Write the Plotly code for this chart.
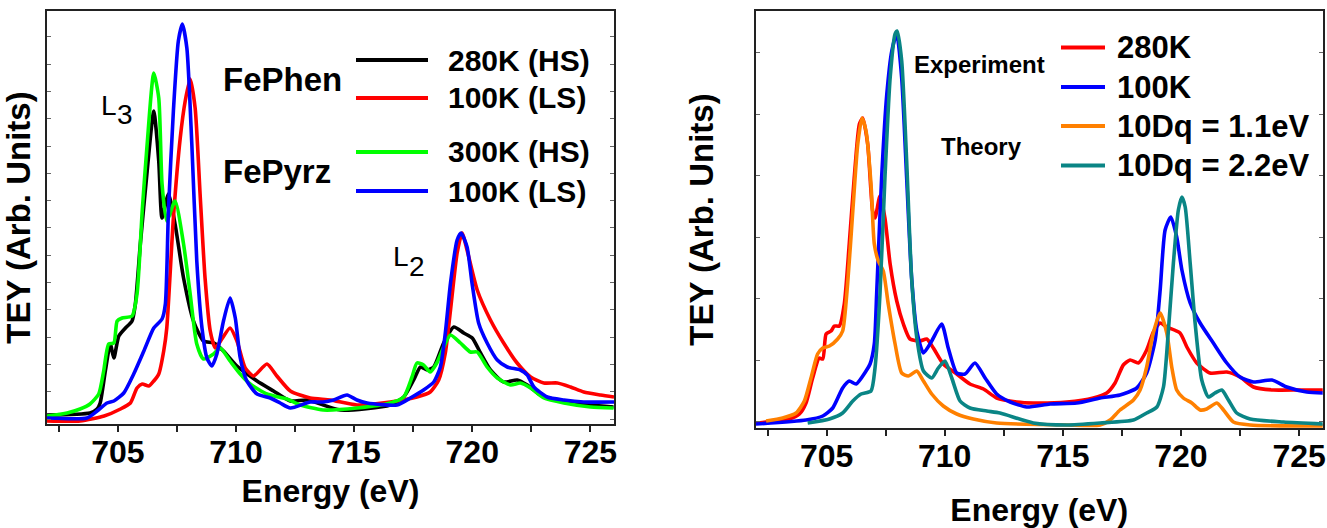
import plotly.graph_objects as go

W, H = 1327, 528
FONT = "Liberation Sans, Arial, sans-serif"

# ---------------- Left panel data (energy in eV, TEY in arb. units) ----------------
phen280_E = [702.00, 703.82, 704.12, 704.25, 704.47, 704.68, 704.83, 705.04, 705.32, 705.60, 705.74, 705.95,
             706.24, 706.52, 706.73, 706.87, 707.14, 707.42, 707.78, 708.20, 708.62, 709.05, 709.47, 710.04,
             710.89, 711.59, 712.30, 713.02, 714.42, 716.53, 717.10, 717.52, 717.81, 718.09, 718.37, 718.79,
             719.22, 719.64, 720.00, 720.35, 720.77, 721.33, 721.90, 722.33, 722.89, 723.60, 725.01, 725.98]
phen280_I = [9, 11, 15, 21, 53, 80, 66, 88, 96, 103, 120, 180,
             253, 313, 263, 206, 230, 200, 146, 103, 83, 81, 73, 58,
             43, 33, 23, 24, 14, 19, 27, 44, 57, 54, 57, 81,
             97, 91, 86, 71, 54, 42, 44, 39, 29, 24, 19, 17]

phen100_E = [702.00, 703.41, 704.42, 705.11, 705.53, 705.81, 706.03, 706.31, 706.52, 706.73, 706.94, 707.07,
             707.35, 707.64, 707.85, 708.06, 708.27, 708.48, 708.69, 708.91, 709.12, 709.40, 709.75, 710.04,
             710.39, 710.74, 711.31, 711.73, 712.30, 713.14, 713.99, 715.12, 716.53, 717.66, 718.22, 718.58,
             718.86, 719.08, 719.36, 719.57, 719.78, 720.21, 720.77, 721.33, 721.90, 722.47, 723.03, 723.60,
             724.16, 724.72, 725.43, 726.00]
phen100_I = [3, 3, 8, 15, 21, 36, 40, 38, 43, 50, 73, 96,
             206, 286, 323, 345, 316, 230, 146, 93, 76, 85, 96, 83,
             56, 48, 60, 48, 33, 26, 24, 19, 22, 27, 32, 44,
             71, 114, 171, 191, 174, 134, 104, 81, 61, 47, 41, 41,
             37, 32, 29, 27]

pyrz300_E = [702.00, 702.85, 703.40, 703.82, 704.19, 704.40, 704.61, 704.83, 704.97, 705.18, 705.60, 705.81,
             706.03, 706.24, 706.52, 706.73, 706.87, 707.07, 707.42, 707.78, 708.06, 708.34, 708.62, 709.05,
             709.33, 709.75, 710.18, 710.60, 711.31, 712.16, 712.72, 713.69, 715.12, 716.53, 717.10, 717.45,
             717.66, 717.94, 718.22, 718.50, 718.79, 719.08, 719.50, 719.92, 720.21, 720.63, 721.06, 721.62,
             722.04, 722.47, 723.03, 723.88, 725.01, 725.98]
pyrz300_I = [8, 11, 15, 20, 30, 53, 80, 81, 103, 106, 108, 130,
             213, 280, 351, 326, 240, 203, 223, 180, 130, 80, 65, 70,
             76, 63, 50, 40, 30, 25, 19, 14, 16, 21, 27, 47,
             61, 59, 52, 61, 77, 89, 81, 72, 72, 57, 46, 39,
             41, 36, 26, 21, 17, 16]

pyrz100_E = [702.00, 703.69, 704.12, 704.54, 704.83, 705.25, 705.67, 706.10, 706.52, 706.87, 707.01, 707.14,
             707.35, 707.56, 707.73, 707.92, 708.13, 708.34, 708.56, 708.77, 708.98, 709.19, 709.47, 709.75,
             709.97, 710.18, 710.46, 710.89, 711.45, 711.87, 712.30, 713.14, 713.69, 714.13, 714.70, 715.12,
             715.55, 716.82, 717.38, 717.94, 718.37, 718.65, 718.86, 719.08, 719.36, 719.53, 719.78, 719.99,
             720.27, 720.63, 721.06, 721.48, 722.04, 722.33, 722.61, 723.17, 723.88, 724.72, 726.00]
pyrz100_I = [6, 6, 13, 21, 23, 31, 50, 73, 96, 105, 120, 213,
             313, 383, 400, 376, 280, 163, 96, 66, 58, 70, 103, 126,
             106, 66, 43, 30, 26, 21, 16, 22, 22, 24, 29, 24,
             21, 19, 26, 34, 42, 57, 91, 141, 184, 191, 177, 141,
             101, 81, 64, 57, 54, 49, 37, 27, 24, 22, 22]

# ---------------- Right panel data ----------------
exp280_E = [702.01, 703.42, 703.85, 704.13, 704.41, 704.69, 704.84, 704.98, 705.19, 705.33, 705.54, 705.75,
            705.96, 706.17, 706.39, 706.53, 706.74, 706.95, 707.05, 707.26, 707.47, 707.69, 707.97, 708.25,
            708.53, 708.96, 709.24, 709.52, 709.94, 710.51, 711.07, 711.64, 712.20, 713.05, 713.75, 715.17,
            716.29, 716.86, 717.21, 717.56, 717.85, 718.20, 718.55, 718.83, 719.12, 719.40, 719.96, 720.25,
            720.67, 721.23, 721.94, 722.50, 723.07, 723.91, 725.04, 726.03]
exp280_I = [5, 9, 14, 25, 50, 70, 69, 94, 97, 102, 102, 124,
            184, 250, 304, 310, 284, 217, 210, 232, 210, 164, 127, 104,
            89, 87, 89, 80, 64, 54, 44, 39, 30, 26, 25, 26,
            30, 35, 45, 63, 68, 65, 78, 96, 105, 101, 95, 81,
            65, 55, 56, 51, 41, 38, 38, 38]

exp100_E = [702.01, 704.13, 704.84, 705.26, 705.68, 705.96, 706.25, 706.67, 706.84, 707.02, 707.12, 707.33,
            707.55, 707.76, 707.97, 708.18, 708.39, 708.60, 708.82, 709.10, 709.45, 709.87, 710.15, 710.51,
            710.86, 711.28, 711.71, 712.20, 712.77, 713.47, 714.46, 715.59, 716.58, 717.42, 718.13, 718.55,
            718.91, 719.12, 719.33, 719.57, 719.82, 720.04, 720.39, 720.81, 721.37, 721.94, 722.50, 723.07,
            723.85, 724.48, 725.33, 726.03]
exp100_I = [4, 8, 12, 20, 40, 47, 44, 57, 64, 84, 134, 250,
            334, 377, 394, 350, 250, 150, 97, 75, 87, 104, 80, 55,
            54, 65, 50, 34, 26, 21, 24, 25, 30, 33, 40, 55,
            88, 138, 198, 211, 191, 158, 125, 105, 85, 65, 51, 46,
            48, 41, 36, 35]

dq11_E = [702.44, 703.14, 703.71, 704.06, 704.34, 704.62, 704.84, 705.12, 705.47, 705.68, 705.89, 706.11,
          706.32, 706.50, 706.67, 706.88, 707.02, 707.19, 707.40, 707.61, 707.90, 708.18, 708.46, 708.82,
          709.10, 709.45, 709.94, 710.51, 711.21, 712.20, 715.17, 716.58, 717.00, 717.42, 717.99, 718.27,
          718.55, 718.83, 719.12, 719.40, 719.61, 719.82, 720.10, 720.46, 720.81, 721.09, 721.52, 721.80,
          722.22, 722.93, 726.03]
dq11_I = [7, 10, 15, 27, 50, 74, 80, 82, 89, 97, 144, 217,
          284, 310, 297, 244, 184, 167, 157, 124, 84, 55, 52, 57,
          47, 34, 22, 14, 9, 5, 3, 3, 8, 18, 28, 38,
          61, 95, 115, 95, 61, 38, 30, 25, 18, 19, 25, 18,
          6, 3, 2]

dq22_E = [704.20, 705.12, 705.68, 706.11, 706.46, 706.88, 707.05, 707.26, 707.47, 707.69, 707.90, 707.99,
          708.18, 708.39, 708.60, 708.82, 709.10, 709.45, 709.73, 710.01, 710.30, 710.65, 711.07, 711.78,
          712.34, 713.75, 715.17, 716.58, 717.99, 718.55, 718.98, 719.26, 719.47, 719.68, 719.89, 720.04,
          720.18, 720.39, 720.60, 720.88, 721.16, 721.44, 721.73, 722.01, 722.36, 722.93, 724.34, 726.03]
dq22_I = [5, 9, 15, 27, 34, 37, 60, 134, 250, 350, 394, 397,
          367, 267, 150, 90, 57, 50, 60, 67, 50, 27, 20, 17,
          15, 5, 3, 5, 8, 15, 21, 41, 98, 165, 218, 231,
          221, 165, 105, 48, 31, 35, 38, 28, 15, 9, 6, 4]

tick_vals = [702.5, 705, 707.5, 710, 712.5, 715, 717.5, 720, 722.5, 725]
tick_text = ["", "705", "", "710", "", "715", "", "720", "", "725"]

left_series = [
    ("280K (HS)", phen280_E, phen280_I, "#000000"),
    ("100K (LS)", phen100_E, phen100_I, "#ff0000"),
    ("300K (HS)", pyrz300_E, pyrz300_I, "#00ff00"),
    ("100K (LS)", pyrz100_E, pyrz100_I, "#0000ff"),
]
right_series = [
    ("280K", exp280_E, exp280_I, "#ff0000"),
    ("100K", exp100_E, exp100_I, "#0000ff"),
    ("10Dq = 1.1eV", dq11_E, dq11_I, "#ff8000"),
    ("10Dq = 2.2eV", dq22_E, dq22_I, "#0a8585"),
]

LW = 3.6
fig = go.Figure()
for name, e, i, c in left_series:
    fig.add_trace(go.Scatter(x=e, y=i, mode="lines", name=name, xaxis="x", yaxis="y",
                             line=dict(color=c, width=LW, shape="spline", smoothing=0.6),
                             showlegend=False))
for name, e, i, c in right_series:
    fig.add_trace(go.Scatter(x=e, y=i, mode="lines", name=name, xaxis="x2", yaxis="y2",
                             line=dict(color=c, width=LW, shape="spline", smoothing=0.6),
                             showlegend=False))


def px(x):
    return x / W


def py(y):
    return 1 - y / H


bold30 = dict(family=FONT, size=30, color="black", weight="bold")
bold32 = dict(family=FONT, size=32, color="black", weight="bold")
bold33 = dict(family=FONT, size=33, color="black", weight="bold")

xcommon = dict(range=[702, 726], tickvals=tick_vals, ticktext=tick_text, ticks="outside",
               ticklen=6, tickwidth=1.5, tickcolor="#222", showline=True, linecolor="#222",
               linewidth=2, mirror=True, showgrid=False, zeroline=False, tickfont=bold32,
               ticklabelstandoff=-7, automargin=False)
xtop = dict(range=[702, 726], tickvals=tick_vals, ticks="inside", ticklen=5, tickwidth=1.5,
            tickcolor="#222", showticklabels=False, showline=False, showgrid=False,
            zeroline=False, side="top", automargin=False)
ycommon = dict(showticklabels=False, ticks="inside", ticklen=4, tickwidth=1, tickcolor="#666",
               showline=True, linecolor="#222", linewidth=2, mirror="ticks", showgrid=False,
               zeroline=False, automargin=False)

fig.update_layout(
    width=W, height=H, margin=dict(l=0, r=0, t=0, b=0, autoexpand=False),
    paper_bgcolor="white", plot_bgcolor="white",
    xaxis=dict(domain=[47 / W, 614 / W], anchor="y",
               title=dict(text="Energy (eV)", font=bold32, standoff=10), **xcommon),
    yaxis=dict(domain=[py(424), py(11)], anchor="x", range=[0, 413], tick0=5, dtick=27.3,
               title=dict(text="TEY (Arb. Units)", font=bold33, standoff=8), **ycommon),
    xaxis2=dict(domain=[755.7 / W, 1322.7 / W], anchor="y2",
                title=dict(text="Energy (eV)", font=bold32, standoff=26), **xcommon),
    yaxis2=dict(domain=[py(428), py(11)], anchor="x2", range=[0, 417], tick0=6.5, dtick=61.5,
                title=dict(text="TEY (Arb. Units)", font=bold33, standoff=30), **ycommon),
    xaxis3=dict(overlaying="x", anchor="y", **xtop),
    xaxis4=dict(overlaying="x2", anchor="y2", **xtop),
)

# ---- hand-made legends (sample line + label) ----
shapes = []
annots = []
left_leg_y = [60, 98, 152, 191]
for (name, _, _, c), yy in zip(left_series, left_leg_y):
    shapes.append(dict(type="line", xref="paper", yref="paper", x0=px(356), x1=px(428),
                       y0=py(yy), y1=py(yy), line=dict(color=c, width=4)))
    annots.append(dict(text=name, xref="paper", yref="paper", x=px(446), y=py(yy),
                       xanchor="left", yanchor="middle", showarrow=False, font=bold30))
right_leg_y = [47.5, 87, 126, 165.5]
for (name, _, _, c), yy in zip(right_series, right_leg_y):
    shapes.append(dict(type="line", xref="paper", yref="paper", x0=px(1061), x1=px(1105),
                       y0=py(yy), y1=py(yy), line=dict(color=c, width=4)))
    annots.append(dict(text=name, xref="paper", yref="paper", x=px(1115), y=py(yy),
                       xanchor="left", yanchor="middle", showarrow=False,
                       font=dict(family=FONT, size=31, color="black", weight="bold")))

bold24 = dict(family=FONT, size=24, color="black", weight="bold")
norm28 = dict(family=FONT, size=28, color="black")
labels = [
    ("FePhen", 221, 80, bold33),
    ("FePyrz", 221, 172, bold33),
    ("Experiment", 912, 65, bold24),
    ("Theory", 939, 147, bold24),
]
for t, x, y, f in labels:
    annots.append(dict(text=t, xref="paper", yref="paper", x=px(x), y=py(y), xanchor="left",
                       yanchor="middle", showarrow=False, font=f))
# L3 / L2 edge labels (letter + lowered index)
edge = [("L", 99, 106), ("3", 115, 115), ("L", 391, 256), ("2", 407, 266)]
for t, x, y in edge:
    annots.append(dict(text=t, xref="paper", yref="paper", x=px(x), y=py(y), xanchor="left",
                       yanchor="middle", showarrow=False, font=norm28))

fig.update_layout(shapes=shapes, annotations=annots)
fig.write_html("out.html", config={"displayModeBar": False},
               post_script="document.body.style.margin='0px';document.body.style.overflow='hidden';")
